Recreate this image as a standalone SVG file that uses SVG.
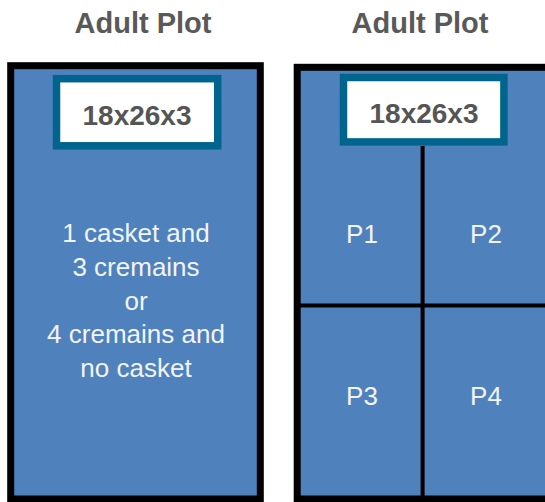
<svg xmlns="http://www.w3.org/2000/svg" width="545" height="502" viewBox="0 0 545 502">
<style>
.title{font-family:"Liberation Sans",Arial,sans-serif;font-weight:bold;font-size:29px;fill:#595959;text-anchor:middle}
.plot{fill:#4f81bd;stroke:#000;stroke-width:7}
.lbl{fill:#fff;stroke:#00658d;stroke-width:7.5}
.lbltxt{font-family:"Liberation Sans",Arial,sans-serif;font-weight:bold;font-size:28px;fill:#555;text-anchor:middle}
.body{font-family:"Liberation Sans",Arial,sans-serif;font-size:26px;fill:#f2f4fa;text-anchor:middle}
.div{stroke:#000;stroke-width:4}
</style>
<rect width="545" height="502" fill="#fff"/>
<g id="plot-left">
<text class="title" x="143" y="33">Adult Plot</text>
<rect class="plot" x="10.7" y="65.7" width="249.6" height="433.3"/>
<g id="label-left">
<rect class="lbl" x="56.5" y="78.7" width="161.2" height="67.1"/>
<text class="lbltxt" x="137" y="125">18x26x3</text>
</g>
<text class="body" x="136" y="242">1 casket and</text>
<text class="body" x="136" y="276">3 cremains</text>
<text class="body" x="136" y="310">or</text>
<text class="body" x="136" y="343">4 cremains and</text>
<text class="body" x="136" y="377">no casket</text>
</g>
<g id="plot-right">
<text class="title" x="420" y="33">Adult Plot</text>
<rect class="plot" x="297.2" y="67.3" width="260" height="431.7"/>
</g>
<g id="connectors">
<line class="div" x1="422.6" y1="146" x2="422.6" y2="502"/>
<line class="div" x1="300" y1="305.5" x2="545" y2="305.5"/>
</g>
<g id="label-right">
<rect class="lbl" x="343.5" y="77.5" width="160.4" height="64.4"/>
<text class="lbltxt" x="424" y="123">18x26x3</text>
</g>
<g id="p1"><text class="body" x="362" y="243">P1</text></g>
<g id="p2"><text class="body" x="486" y="243">P2</text></g>
<g id="p3"><text class="body" x="362" y="405">P3</text></g>
<g id="p4"><text class="body" x="486" y="405">P4</text></g>
</svg>
